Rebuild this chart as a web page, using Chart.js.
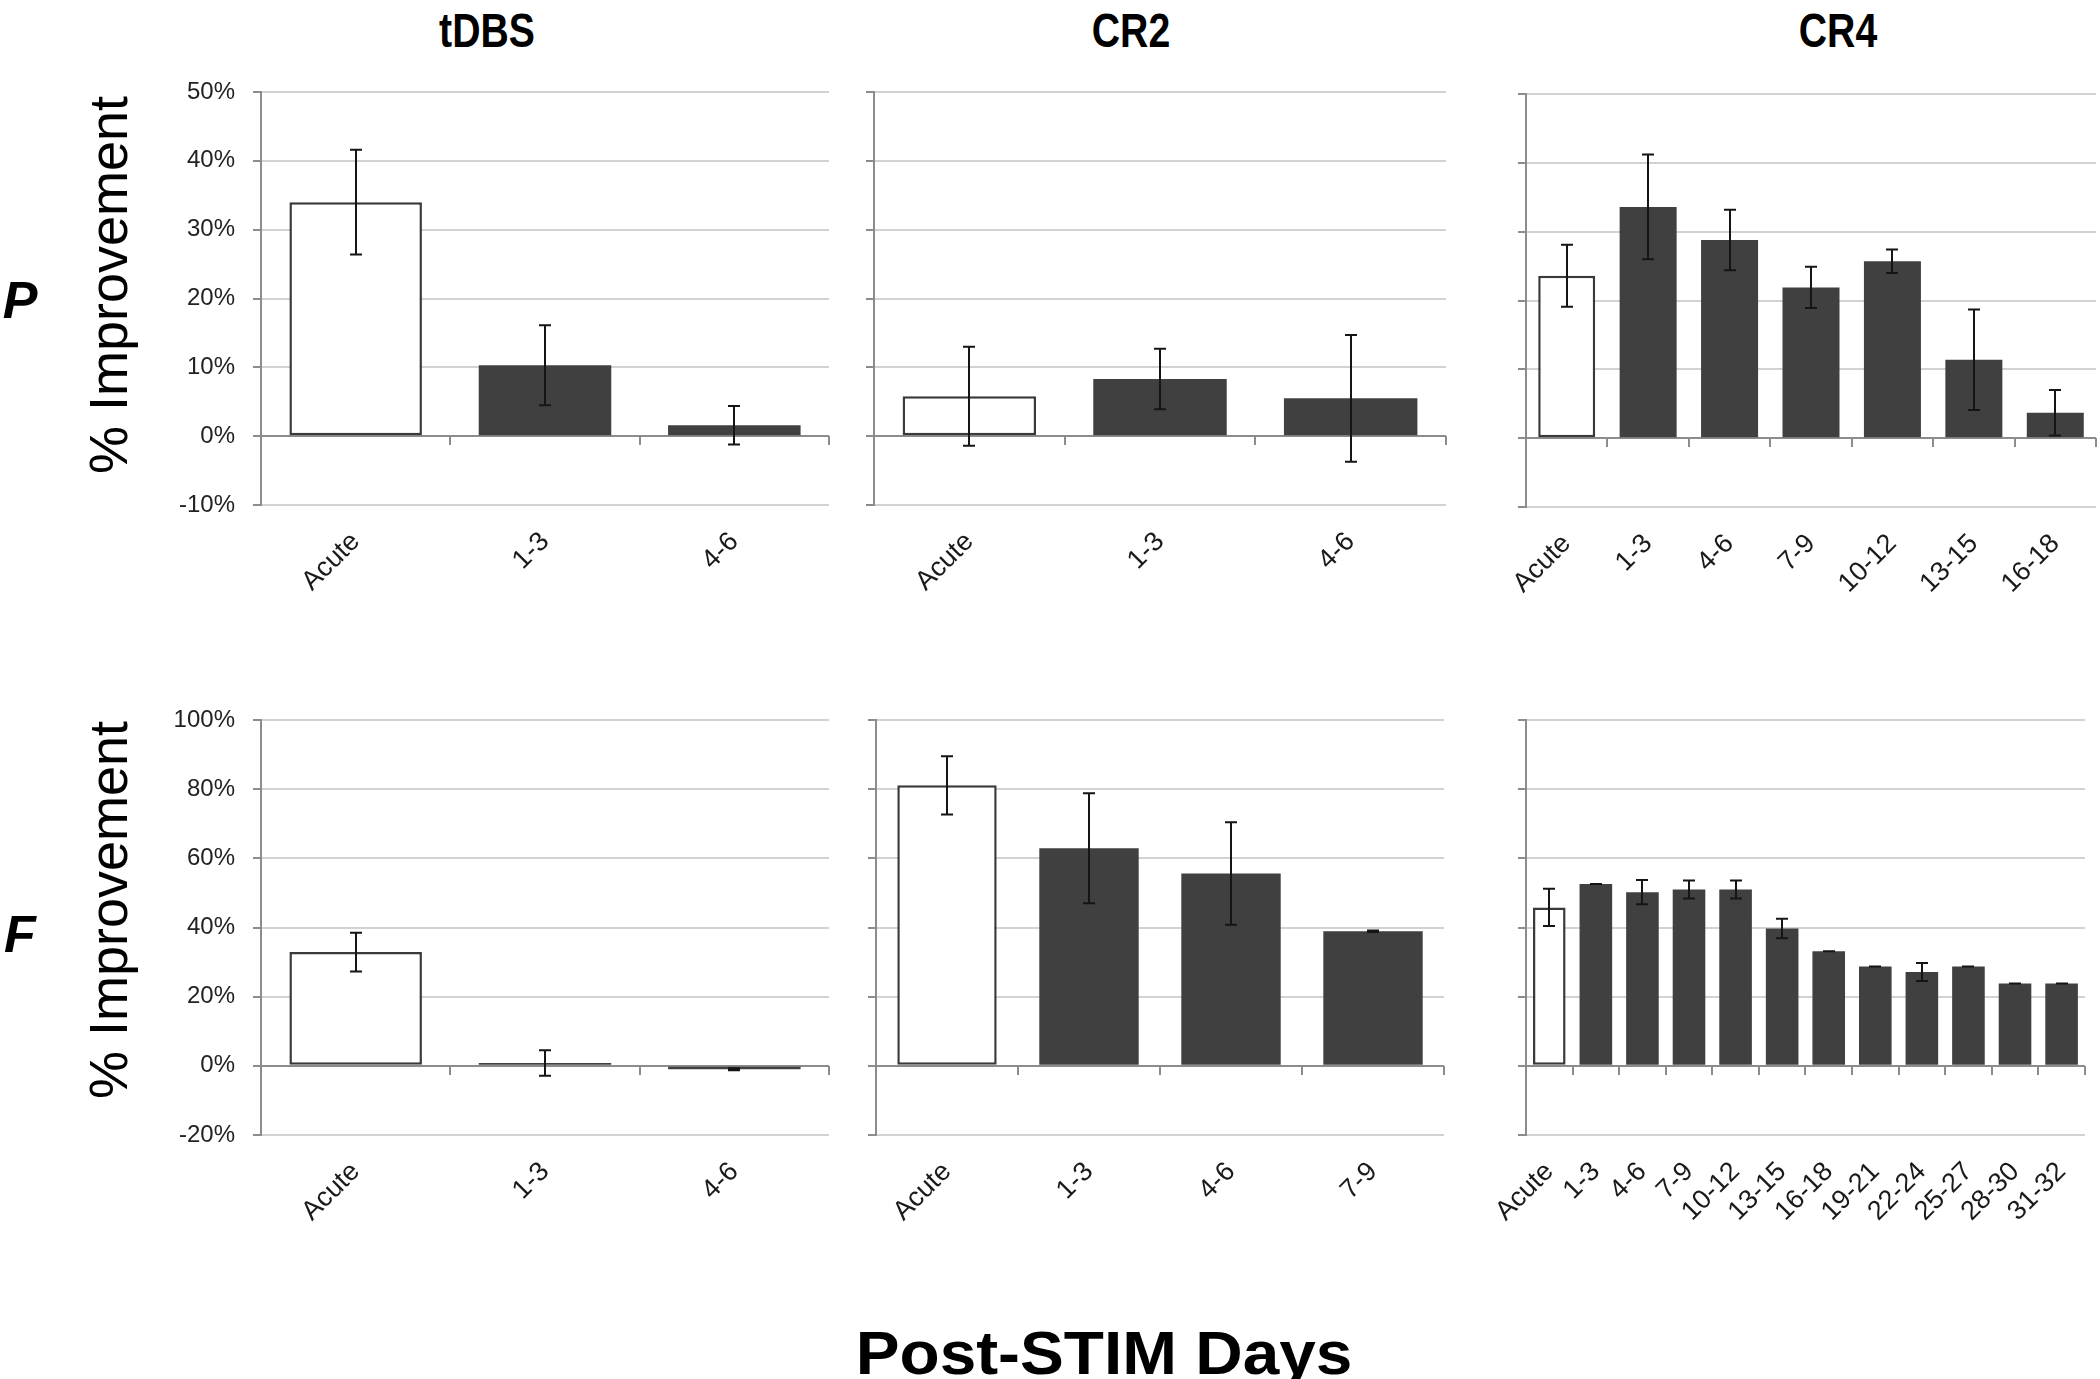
<!DOCTYPE html>
<html><head><meta charset="utf-8">
<script src="https://cdn.jsdelivr.net/npm/chart.js@4.4.1/dist/chart.umd.min.js"></script>
<style>
html,body{margin:0;padding:0;background:#fff;}
body{width:2100px;height:1379px;position:relative;overflow:hidden;font-family:"Liberation Sans",Arial,sans-serif;}
canvas{position:absolute;}
.t{position:absolute;transform:translate(-50%,-50%);white-space:nowrap;color:#000;line-height:1;}
.title{font-family:"Liberation Sans",Arial,sans-serif;font-weight:bold;font-size:49px;transform:translate(-50%,-50%) scaleX(0.8);}
.row{font-family:"Liberation Sans",Arial,sans-serif;font-weight:bold;font-style:italic;font-size:52px;}
.ylab{font-family:"Liberation Sans",Arial,sans-serif;font-size:54px;transform:translate(-50%,-50%) rotate(-90deg);}
.xlab{font-family:"Liberation Sans",Arial,sans-serif;font-weight:bold;font-size:62px;transform:translate(-50%,-50%) scaleX(1.06);}
</style></head><body>
<div class="t title" style="left:487px;top:30px;">tDBS</div>
<div class="t title" style="left:1131px;top:30px;">CR2</div>
<div class="t title" style="left:1838px;top:30px;">CR4</div>
<div class="t row" style="left:20px;top:300px;">P</div>
<div class="t row" style="left:20px;top:934px;">F</div>
<div class="t ylab" style="left:108px;top:285px;">% Improvement</div>
<div class="t ylab" style="left:108px;top:910px;">% Improvement</div>
<div class="t xlab" style="left:1104px;top:1353px;">Post-STIM Days</div>
<script>
// ---- data ----
const tdbsLabels = ['Acute','1-3','4-6'];
const cr2PLabels = ['Acute','1-3','4-6'];
const cr4PLabels = ['Acute','1-3','4-6','7-9','10-12','13-15','16-18'];
const cr2FLabels = ['Acute','1-3','4-6','7-9'];
const cr4FLabels = ['Acute','1-3','4-6','7-9','10-12','13-15','16-18','19-21','22-24','25-27','28-30','31-32'];

const tdbsPValues = [34.0, 10.3, 1.6];
const tdbsPErrors = [7.6, 5.8, 2.8];
const cr2PValues = [5.8, 8.3, 5.5];
const cr2PErrors = [7.2, 4.4, 9.2];
const cr4PValues = [23.6, 33.6, 28.8, 21.9, 25.7, 11.4, 3.7];
const cr4PErrors = [4.5, 7.6, 4.4, 3.0, 1.7, 7.3, 3.3];

const tdbsFValues = [32.9, 0.8, -1.0];
const tdbsFErrors = [5.6, 3.7, 0.3];
const cr2FValues = [81.1, 62.9, 55.6, 38.9];
const cr2FErrors = [8.4, 15.9, 14.8, 0.2];
const cr4FValues = [45.8, 52.6, 50.2, 51.0, 51.0, 39.7, 33.1, 28.7, 27.1, 28.7, 23.8, 23.8];
const cr4FErrors = [5.4, 0, 3.5, 2.6, 2.6, 2.8, 0, 0, 2.6, 0, 0, 0];

const pTicks = [-10, 0, 10, 20, 30, 40, 50];
const fTicks = [-20, 0, 20, 40, 60, 80, 100];

// ---- layout ----
const YW = 120, PADT = 44, PADR = 12, XH = 150;
const DARK = '#404040';

Chart.defaults.font.family = '"Liberation Sans", Arial, sans-serif';

const zeroAxisPlugin = {
  id: 'zeroAxis',
  beforeDatasetsDraw(chart) {
    const {ctx, scales: {x, y}, chartArea} = chart;
    const y0 = Math.round(y.getPixelForValue(0));
    const n = chart.data.labels.length;
    ctx.save();
    ctx.strokeStyle = '#8c8c8c';
    ctx.lineWidth = 2;
    ctx.beginPath();
    ctx.moveTo(chartArea.left, y0);
    ctx.lineTo(chartArea.right, y0);
    for (let i = 0; i < n; i++) {
      const xb = Math.round(x.getPixelForValue(i + 0.5));
      ctx.moveTo(xb, y0);
      ctx.lineTo(xb, y0 + 9);
    }
    ctx.stroke();
    ctx.restore();
  }
};

const errorBarPlugin = {
  id: 'errorBars',
  afterDatasetsDraw(chart) {
    const {ctx, scales: {y}} = chart;
    const ds = chart.data.datasets[0];
    const meta = chart.getDatasetMeta(0);
    ctx.save();
    ctx.strokeStyle = '#151515';
    ctx.lineWidth = 2;
    meta.data.forEach((bar, i) => {
      const v = ds.data[i], e = ds.errors[i];
      const xc = Math.round(bar.x);
      const yt = y.getPixelForValue(v + e);
      const yb = y.getPixelForValue(v - e);
      ctx.beginPath();
      ctx.moveTo(xc, yt); ctx.lineTo(xc, yb);
      ctx.moveTo(xc - 6, yt); ctx.lineTo(xc + 6, yt);
      ctx.moveTo(xc - 6, yb); ctx.lineTo(xc + 6, yb);
      ctx.stroke();
    });
    ctx.restore();
  }
};

function makePanel(p) {
  const c = document.createElement('canvas');
  const w = Math.round(p.right - p.axisX + YW + PADR);
  const h = Math.round(p.bottom - p.top + PADT + XH);
  c.width = w; c.height = h;
  c.style.left = (p.axisX - YW) + 'px';
  c.style.top = (p.top - PADT) + 'px';
  c.style.width = w + 'px'; c.style.height = h + 'px';
  document.body.appendChild(c);
  const ticks = p.ticks;
  new Chart(c, {
    type: 'bar',
    data: {
      labels: p.labels,
      datasets: [{
        data: p.values,
        errors: p.errors,
        backgroundColor: p.values.map((v, i) => i === 0 ? '#ffffff' : DARK),
        borderColor: p.values.map((v, i) => i === 0 ? '#3a3a3a' : DARK),
        borderWidth: p.values.map((v, i) => i === 0 ? 2.5 : 0),
        borderSkipped: false,
        barPercentage: 0.7,
        categoryPercentage: 1.0
      }]
    },
    options: {
      responsive: false,
      animation: false,
      devicePixelRatio: 1,
      layout: {padding: {top: PADT, right: PADR, left: 0, bottom: 0}},
      plugins: {legend: {display: false}, tooltip: {enabled: false}},
      scales: {
        x: {
          grid: {display: false, drawTicks: false},
          border: {display: false},
          ticks: {
            autoSkip: false, maxRotation: 45, minRotation: 45, padding: 21,
            color: '#1a1a1a', font: {size: 27}
          },
          afterFit: s => { s.height = XH; }
        },
        y: {
          min: ticks[0], max: ticks[ticks.length - 1],
          afterBuildTicks: s => { s.ticks = ticks.map(v => ({value: v})); },
          grid: {color: '#d2d2d2', lineWidth: 2, tickColor: '#8c8c8c', tickLength: 8, drawTicks: true},
          border: {display: true, color: '#8c8c8c', width: 2},
          ticks: {
            display: p.showY, padding: 18, color: '#222',
            font: {size: 24, family: '"Liberation Sans Narrow", "Liberation Sans", Arial, sans-serif'},
            callback: v => v + '%'
          },
          afterFit: s => { s.width = YW; }
        }
      }
    },
    plugins: [zeroAxisPlugin, errorBarPlugin]
  });
}

makePanel({labels: tdbsLabels, values: tdbsPValues, errors: tdbsPErrors, ticks: pTicks, axisX: 261, right: 829, top: 91.5, bottom: 504, showY: true});
makePanel({labels: cr2PLabels, values: cr2PValues, errors: cr2PErrors, ticks: pTicks, axisX: 874, right: 1446, top: 91.5, bottom: 504, showY: false});
makePanel({labels: cr4PLabels, values: cr4PValues, errors: cr4PErrors, ticks: pTicks, axisX: 1526, right: 2096, top: 93.5, bottom: 506, showY: false});
makePanel({labels: tdbsLabels, values: tdbsFValues, errors: tdbsFErrors, ticks: fTicks, axisX: 261, right: 829, top: 720, bottom: 1135, showY: true});
makePanel({labels: cr2FLabels, values: cr2FValues, errors: cr2FErrors, ticks: fTicks, axisX: 876, right: 1444, top: 720, bottom: 1135, showY: false});
makePanel({labels: cr4FLabels, values: cr4FValues, errors: cr4FErrors, ticks: fTicks, axisX: 1526, right: 2094, top: 720, bottom: 1135, showY: false});
</script>
</body></html>
